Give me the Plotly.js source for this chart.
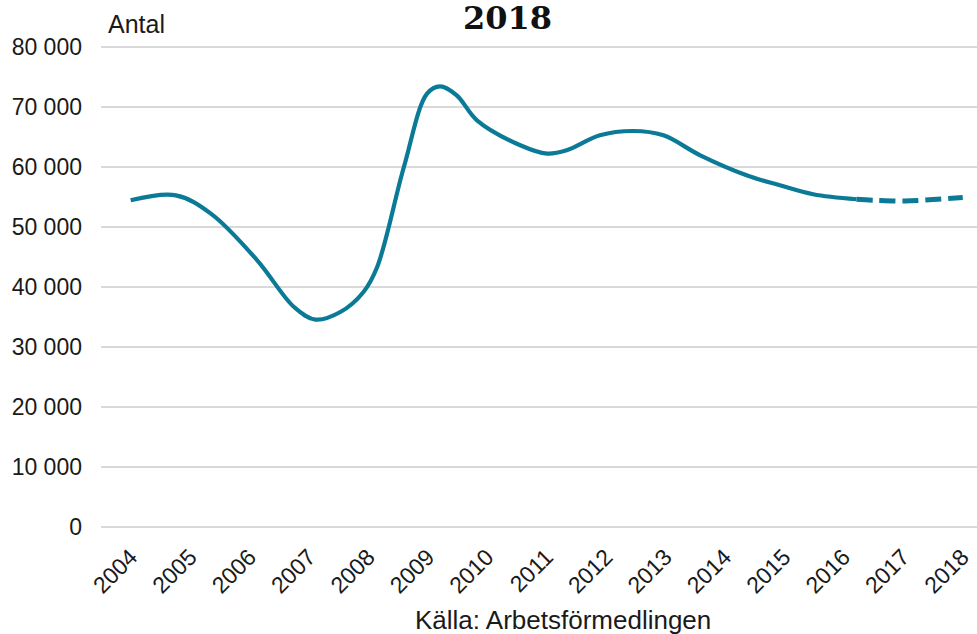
<!DOCTYPE html>
<html>
<head>
<meta charset="utf-8">
<script src="https://cdn.plot.ly/plotly-3.0.1.min.js"></script>
<style>
html,body{margin:0;padding:0;background:#fff;}
#chart{width:977px;height:634px;}
</style>
</head>
<body>
<div id="chart"></div>
<script>
// Tick labels (years)
var years = [2004,2005,2006,2007,2008,2009,2010,2011,2012,2013,2014,2015,2016,2017,2018];

var observedX = [2004.00,2004.76,2005.35,2006.13,2006.75,2007.11,2007.53,2007.92,2008.15,2008.60,2008.99,2009.21,2009.49,2009.83,2010.56,2011.01,2011.34,2011.90,2012.46,2012.97,2013.59,2014.37,2014.93,2015.49,2016.22];
var observedY = [54450,55280,52230,44450,36670,34570,35830,39170,43330,60000,72230,73450,71950,67780,63620,62230,62780,65280,66000,65280,61950,58620,56950,55450,54620];

// Forecast series (dashed)
var forecastX = [2016.22,2016.55,2017.03,2017.51,2018.01];
var forecastY = [54620,54450,54330,54570,54900];

var lineColor = '#0b7a97';
var font = 'Liberation Sans, Arial, sans-serif';

var traces = [
  {x: observedX, y: observedY, type: 'scatter', mode: 'lines',
   line: {color: lineColor, width: 4.2, shape: 'spline', smoothing: 1}, hoverinfo: 'skip'},
  {x: forecastX, y: forecastY, type: 'scatter', mode: 'lines',
   line: {color: lineColor, width: 5, shape: 'spline', smoothing: 1, dash: '16px,7px'}, hoverinfo: 'skip'}
];

var yTicks = [0,10000,20000,30000,40000,50000,60000,70000,80000];
var yTickText = yTicks.map(function(v){
  var s = String(v);
  return s.length > 3 ? s.slice(0, s.length-3) + ' ' + s.slice(-3) : s;
});

var layout = {
  width: 977, height: 634,
  margin: {l: 101, r: 0, t: 43.7, b: 104.3},
  paper_bgcolor: '#fff', plot_bgcolor: '#fff',
  showlegend: false,
  font: {family: font, color: '#1a1a1a'},
  title: {text: '<b>2018</b>', font: {family: 'DejaVu Serif, serif', size: 32, color: '#111'},
          x: 507.5/977, xanchor: 'center', xref: 'container',
          y: 1 - 18/634, yanchor: 'middle', yref: 'container'},
  xaxis: {
    type: 'linear', range: [2003.5, 2018.25],
    tickvals: years, ticktext: years.map(String),
    tickangle: -45, tickfont: {family: font, size: 23, color: '#1a1a1a'},
    showgrid: false, zeroline: false, showline: false, ticks: '',
    ticklabelstandoff: 8,
    fixedrange: true
  },
  yaxis: {
    range: [-500, 80500],
    tickvals: yTicks, ticktext: yTickText,
    tickfont: {family: font, size: 23, color: '#1a1a1a'},
    showgrid: true, gridcolor: '#d9d9d9', gridwidth: 1.3,
    zeroline: false, showline: false, ticks: '',
    ticklabelstandoff: 18,
    fixedrange: true
  },
  annotations: [
    {text: 'Antal', xref: 'paper', yref: 'paper', x: 0, xshift: 5, y: 1, yshift: 4,
     xanchor: 'left', yanchor: 'bottom', showarrow: false,
     font: {family: font, size: 25, color: '#1a1a1a'}},
    {text: 'Källa: Arbetsförmedlingen', xref: 'paper', yref: 'paper',
     x: (562.5-101)/876, y: (529.7-619.5)/486, xanchor: 'center', yanchor: 'middle',
     showarrow: false, font: {family: font, size: 26, color: '#1a1a1a'}}
  ]
};

Plotly.newPlot('chart', traces, layout, {displayModeBar: false, staticPlot: true});
</script>
</body>
</html>
